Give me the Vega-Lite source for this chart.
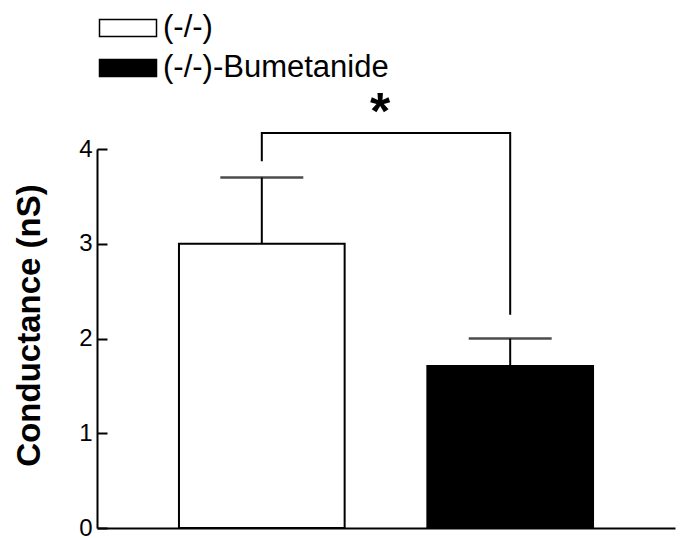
{
  "$schema": "https://vega.github.io/schema/vega-lite/v6.json",
  "width": 578,
  "height": 379,
  "autosize": {"type": "none"},
  "padding": {"left": 97, "top": 149, "right": 6, "bottom": 10},
  "background": "white",
  "config": {
    "font": "Liberation Sans",
    "view": {"stroke": null}
  },
  "title": {
    "text": "*",
    "fontSize": 52,
    "fontWeight": "bold",
    "font": "Liberation Sans",
    "anchor": "middle",
    "frame": "group",
    "dx": -6,
    "offset": -132,
    "color": "black"
  },
  "datasets": {
    "bars": [
      {"group": "(-/-)", "mean": 3.0, "upper": 3.7},
      {"group": "(-/-)-Bumetanide", "mean": 1.71, "upper": 2.0}
    ],
    "bracket": [
      {"group": "(-/-)", "y": 3.87, "o": 1},
      {"group": "(-/-)", "y": 4.17, "o": 2},
      {"group": "(-/-)-Bumetanide", "y": 4.17, "o": 3},
      {"group": "(-/-)-Bumetanide", "y": 2.25, "o": 4}
    ]
  },
  "encoding": {
    "x": {
      "field": "group",
      "type": "nominal",
      "sort": null,
      "scale": {"paddingInner": 0.333, "paddingOuter": 0.33},
      "axis": {
        "title": null,
        "labels": false,
        "ticks": false,
        "domain": true,
        "domainColor": "black",
        "domainWidth": 2
      }
    }
  },
  "layer": [
    {
      "data": {"name": "bars"},
      "mark": {"type": "bar", "stroke": "black", "strokeWidth": 2},
      "encoding": {
        "y": {
          "field": "mean",
          "type": "quantitative",
          "scale": {"domain": [0, 4], "nice": false},
          "axis": {
            "values": [0, 1, 2, 3, 4],
            "format": "d",
            "grid": false,
            "domainColor": "black",
            "domainWidth": 2,
            "tickColor": "black",
            "tickWidth": 2,
            "tickSize": -10,
            "labelPadding": 15,
            "labelFontSize": 24,
            "labelColor": "black",
            "title": "Conductance (nS)",
            "titleFontSize": 33,
            "titleFontWeight": "bold",
            "titleColor": "black",
            "titlePadding": 32,
            "titleY": 176
          }
        },
        "fill": {
          "field": "group",
          "type": "nominal",
          "scale": {"domain": ["(-/-)", "(-/-)-Bumetanide"], "range": ["white", "black"]},
          "legend": {
            "title": null,
            "orient": "none",
            "legendX": 11,
            "legendY": -141,
            "symbolType": "M-1.5,-0.45H1.5V0.45H-1.5Z",
            "symbolSize": 1444,
            "symbolStrokeColor": "black",
            "symbolStrokeWidth": 1.5,
            "labelFontSize": 31,
            "labelColor": "black",
            "labelLimit": 400,
            "labelOffset": 15,
            "rowPadding": 5
          }
        }
      }
    },
    {
      "data": {"name": "bars"},
      "mark": {"type": "rule", "stroke": "black", "strokeWidth": 2},
      "encoding": {
        "y": {"field": "mean", "type": "quantitative"},
        "y2": {"field": "upper"}
      }
    },
    {
      "data": {"name": "bars"},
      "mark": {"type": "tick", "color": "black", "size": 83, "thickness": 2.5},
      "encoding": {
        "y": {"field": "upper", "type": "quantitative"}
      }
    },
    {
      "data": {"name": "bracket"},
      "mark": {"type": "line", "stroke": "black", "strokeWidth": 2},
      "encoding": {
        "y": {"field": "y", "type": "quantitative"},
        "order": {"field": "o", "type": "quantitative"}
      }
    }
  ]
}
